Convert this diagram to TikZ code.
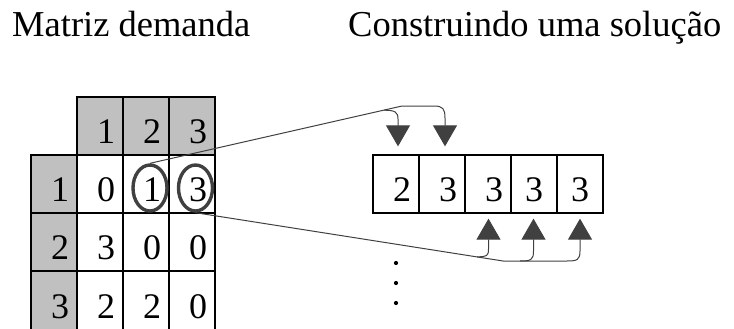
\documentclass[tikz,border=0pt]{standalone}
\usepackage{fontspec}
\setmainfont{Liberation Serif}
\usetikzlibrary{shapes.geometric,arrows.meta}
\definecolor{hdrgray}{RGB}{192,192,192}
\definecolor{inkgray}{RGB}{64,64,64}
\tikzset{
  cell/.style={draw=black, line width=1.3pt, minimum width=46pt, minimum height=58pt,
    inner sep=0pt, text width=30pt, align=right, text height=34pt, text depth=0pt,
    font=\fontsize{36}{40}\selectfont},
  hdr/.style={cell, fill=hdrgray},
  ccell/.style={cell, align=center},
  lastrow/.style={minimum height=60pt},
  ring/.style={ellipse, draw=inkgray, line width=3.4pt, minimum width=34pt,
    minimum height=46pt, inner sep=0pt},
  conn/.style={draw=inkgray, line width=1pt},
  bigtip/.style={-{Triangle[width=24pt,length=21pt]}},
  title/.style={anchor=base west, inner sep=0pt, font=\fontsize{36.5}{40}\selectfont},
  dotmark/.style={circle, fill=black, inner sep=0pt, minimum size=4.2pt}
}
\begin{document}
\begin{tikzpicture}[x=1pt, y=-1pt]
\useasboundingbox (0,0) rectangle (734,329);

% titles
\node[title] (t1) at (12,37) {Matriz demanda};
\node[title] (t2) at (348,37) {Construindo uma solução};

% demand matrix: header row and header column
\node[hdr] (h1) at (100,126) {1};
\node[hdr] (h2) at (146,126) {2};
\node[hdr] (h3) at (192,126) {3};
\node[hdr] (r1) at (54,184) {1};
\node[hdr] (r2) at (54,242) {2};
\node[hdr, lastrow] (r3) at (54,301) {3};

% matrix body
\node[cell] (m11) at (100,184) {0};
\node[cell] (m12) at (146,184) {1};
\node[cell] (m13) at (192,184) {3};
\node[cell] (m21) at (100,242) {3};
\node[cell] (m22) at (146,242) {0};
\node[cell] (m23) at (192,242) {0};
\node[cell, lastrow] (m31) at (100,301) {2};
\node[cell, lastrow] (m32) at (146,301) {2};
\node[cell, lastrow] (m33) at (192,301) {0};

% highlighted entries
\node[ring] (e1) at (150,188) {};
\node[ring] (e2) at (195.5,188) {};

% solution under construction
\node[cell]  (a1) at (396,184) {2};
\node[cell]  (a2) at (442,184) {3};
\node[cell]  (a3) at (488,184) {3};
\node[ccell] (a4) at (534,184) {3};
\node[ccell] (a5) at (580,184) {3};

% upper connector: entry 1 feeds the first two positions
\coordinate (j1) at (384,110.2);
\coordinate (k1) at (402,106);
\coordinate (k2) at (434,106);
\coordinate (b1) at (398,119);
\coordinate (b2) at (445,118);
\draw[conn, bigtip, shorten >=8pt] (e1.north) -- (k1) -- (k2)
  .. controls +(9,0) and +(0,-9) .. (b2) -- ([xshift=3pt]a2.north);
\draw[conn, bigtip, shorten >=8pt] (j1)
  .. controls +(11,0) and +(0,-7) .. (b1) -- ([xshift=2pt]a1.north);

% lower connector: entry 3 feeds the last three positions
\coordinate (l1) at (503,261);
\coordinate (l2) at (567,261);
\coordinate (j3) at (477,256.8);
\coordinate (j4) at (520,261);
\coordinate (c3) at (488.5,249);
\coordinate (c4) at (533.5,251);
\coordinate (c5) at (580,251);
\draw[conn, bigtip, shorten >=5pt] (e2.south) -- (l1) -- (l2)
  .. controls +(10,0) and +(0,9) .. (c5) -- (a5.south);
\draw[conn, bigtip, shorten >=5pt] (j3)
  .. controls +(10,0) and +(0,7) .. (c3) -- ([xshift=0.5pt]a3.south);
\draw[conn, bigtip, shorten >=5pt] (j4)
  .. controls +(11,0) and +(0,9) .. (c4) -- ([xshift=-0.5pt]a4.south);

% vertical ellipsis below the solution
\node[dotmark] (d1) at (396,263) {};
\node[dotmark] (d2) at (396,283) {};
\node[dotmark] (d3) at (396,303) {};
\end{tikzpicture}
\end{document}
